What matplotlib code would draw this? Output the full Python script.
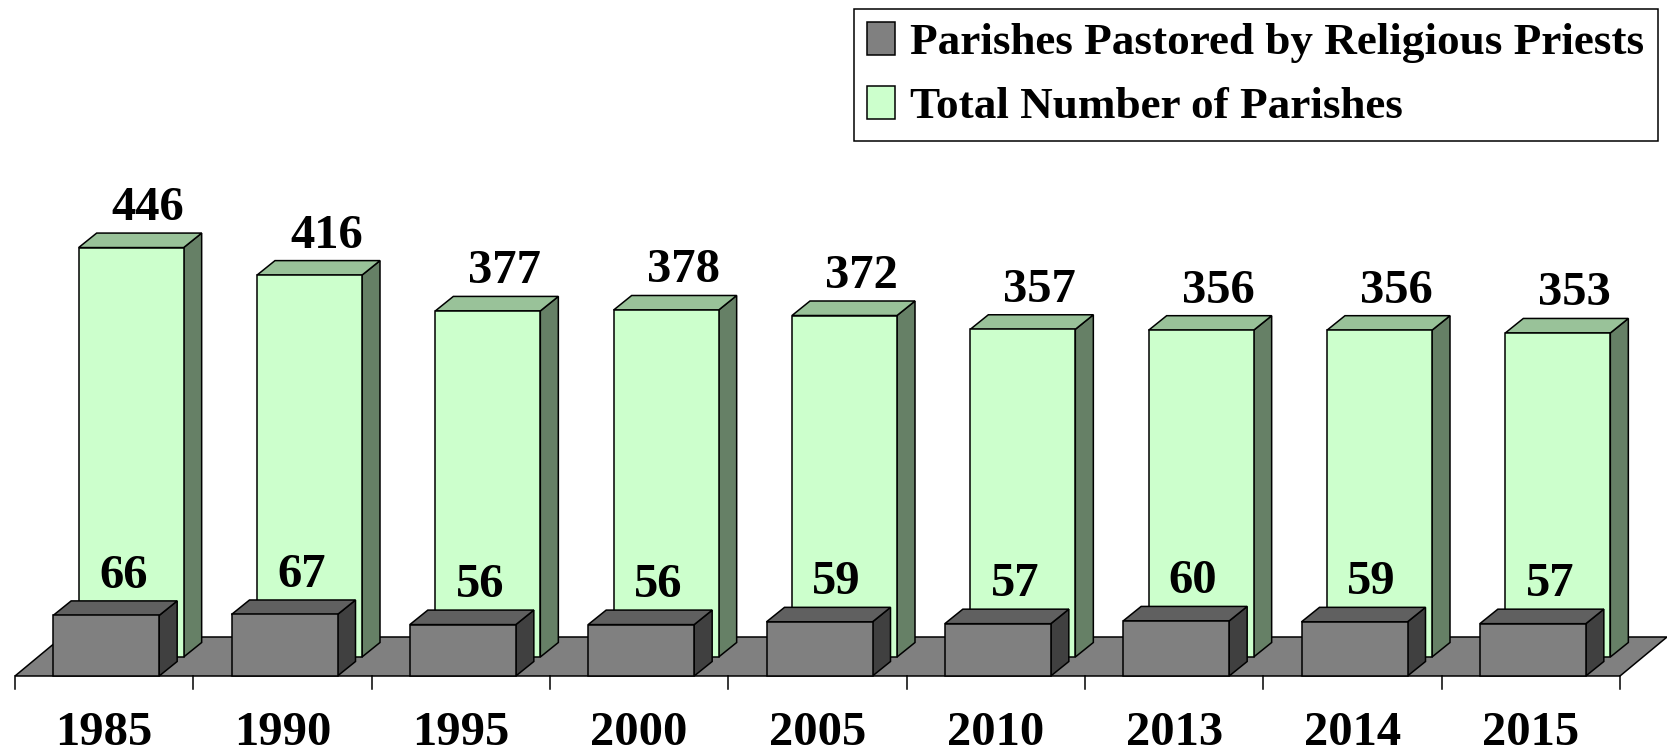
import matplotlib
matplotlib.use('Agg')
import matplotlib.pyplot as plt
from matplotlib.patches import Polygon, Patch

years = ['1985', '1990', '1995', '2000', '2005', '2010', '2013', '2014', '2015']
religious = [66, 67, 56, 56, 59, 57, 60, 59, 57]
total = [446, 416, 377, 378, 372, 357, 356, 356, 353]

series_names = ['Parishes Pastored by Religious Priests', 'Total Number of Parishes']

W, H = 1667, 754
fig = plt.figure(figsize=(W / 100, H / 100), dpi=100)
ax = fig.add_axes([0, 0, 1, 1])
ax.axis('off')

n = len(years)
x_left_px, x_right_px = 15, 1620
base_px = 676          # pixel row (from top) of value 0
px_per_val = 0.918
ux = n / (x_right_px - x_left_px)   # data units per horizontal pixel
uy = 1.0 / px_per_val               # data units per vertical pixel
ax.set_xlim(-0.5 - x_left_px * ux, n - 0.5 + (W - x_right_px) * ux)
ax.set_ylim(-(H - base_px) * uy, base_px * uy)

FONT = 'Liberation Serif'
NUM_SIZE = 35

# floor
fdx, fdy = 47 * ux, 39 * uy
floor = Polygon([(-0.5, 0), (n - 0.5, 0), (n - 0.5 + fdx, fdy), (-0.5 + fdx, fdy)],
                closed=True, facecolor='#808080', edgecolor='black', lw=1.1, zorder=1)
ax.add_patch(floor)

# ticks and category labels
for i in range(n + 1):
    ax.plot([i - 0.5, i - 0.5], [0, -13 * uy], color='black', lw=1.1, zorder=1)
for i, y in enumerate(years):
    ax.text(i, -57 * uy, y, ha='center', va='center', fontsize=NUM_SIZE,
            fontweight='bold', family=FONT)


def bar3d(xc, val, off_x_px, off_y_px, w_px, front, top, side, z):
    dx, dy = 18 * ux, 14.5 * uy
    x0 = xc + off_x_px * ux - w_px * ux / 2
    x1 = x0 + w_px * ux
    y0 = off_y_px * uy
    yt = y0 + val
    kw = dict(closed=True, edgecolor='black', lw=1.1, zorder=z, joinstyle='miter')
    ax.add_patch(Polygon([(x1, y0), (x1 + dx, y0 + dy), (x1 + dx, yt + dy), (x1, yt)],
                         facecolor=side, **kw))
    ax.add_patch(Polygon([(x0, yt), (x1, yt), (x1 + dx, yt + dy), (x0 + dx, yt + dy)],
                         facecolor=top, **kw))
    ax.add_patch(Polygon([(x0, y0), (x1, y0), (x1, yt), (x0, yt)],
                         facecolor=front, **kw))
    # label
    lx = xc + off_x_px * ux + 17 * ux
    ly = yt + dy + 13 * uy
    ax.text(lx, ly, f'{val}', ha='center', va='baseline', fontsize=NUM_SIZE,
            fontweight='bold', family=FONT, zorder=10)


for i, v in enumerate(total):
    bar3d(i, v, 27, 19, 105, '#CCFFCC', '#99C299', '#668066', 3)
for i, v in enumerate(religious):
    bar3d(i, v, 2, 0, 106, '#808080', '#606060', '#404040', 5)

handles = [Patch(facecolor='#808080', edgecolor='black', lw=1.1),
           Patch(facecolor='#CCFFCC', edgecolor='black', lw=1.1)]
leg = fig.legend(handles, series_names, loc='upper right',
                 bbox_to_anchor=(1658 / W, 1 - 8.5 / H),
                 prop={'family': FONT, 'weight': 'bold', 'size': 32.5},
                 frameon=True, fancybox=False, edgecolor='black', framealpha=1,
                 handlelength=0.6, handleheight=0.75, handletextpad=0.35,
                 borderpad=0.3, labelspacing=0.5, borderaxespad=0)
leg.get_frame().set_linewidth(1.1)

fig.savefig('out.png', dpi=100)
